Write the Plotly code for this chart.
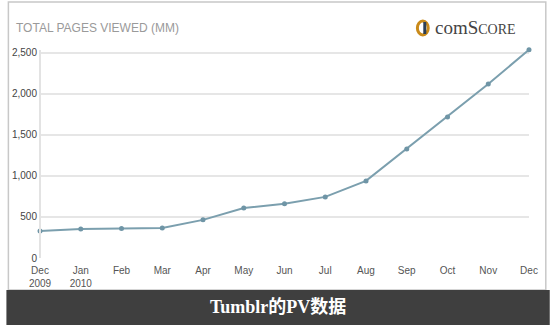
import plotly.graph_objects as go

months = ["Dec<br>2009", "Jan<br>2010", "Feb", "Mar", "Apr", "May", "Jun", "Jul", "Aug", "Sep", "Oct", "Nov", "Dec"]
pages_viewed = [330, 355, 360, 365, 465, 610, 660, 745, 940, 1330, 1720, 2120, 2540]
y_ticks = [0, 500, 1000, 1500, 2000, 2500]
y_tick_labels = ["0", "500", "1,000", "1,500", "2,000", "2,500"]

L, R, T, B = 34, 21, 48, 67
W, H = 550, 325
pw, ph = W - L - R, H - T - B

def px_x(x):
    return (x - L) / pw

def px_y(y):
    return (H - B - y) / ph

fig = go.Figure()
fig.add_trace(go.Scatter(
    x=list(range(len(months))), y=pages_viewed, mode="lines+markers",
    line=dict(color="#7b9fae", width=2),
    marker=dict(color="#6f95a6", size=5),
    cliponaxis=False, showlegend=False, hoverinfo="skip"))

shapes = [
    dict(type="rect", xref="paper", yref="paper", x0=px_x(2), x1=px_x(546), y0=px_y(290), y1=px_y(2),
         line=dict(color="#c8c8c8", width=1.5), fillcolor="rgba(0,0,0,0)", layer="below"),
    dict(type="rect", xref="paper", yref="paper", x0=px_x(0), x1=px_x(550), y0=px_y(325), y1=px_y(290),
         line=dict(width=0), fillcolor="#3f3f3f"),
    dict(type="circle", xref="paper", yref="paper", x0=px_x(416), x1=px_x(427), y0=px_y(35), y1=px_y(21),
         line=dict(color="#c98a1a", width=3), fillcolor="#ffffff"),
    dict(type="line", xref="paper", yref="paper", x0=px_x(423.5), x1=px_x(423.5), y0=px_y(34), y1=px_y(22),
         line=dict(color="#2c3e55", width=3)),
    dict(type="line", xref="paper", yref="paper", x0=px_x(34), x1=px_x(34), y0=px_y(258), y1=px_y(50),
         line=dict(color="#e3e3e3", width=2)),
]

annotations = [
    dict(text="TOTAL PAGES VIEWED (MM)", xref="paper", yref="paper", x=px_x(8), y=px_y(28),
         xanchor="left", yanchor="middle", showarrow=False,
         font=dict(family="Arial, Liberation Sans", size=12, color="#9a9a9a")),
    dict(text="comS<span style='font-size:14px'>CORE</span>", xref="paper", yref="paper", x=px_x(432), y=px_y(28),
         xanchor="left", yanchor="middle", showarrow=False,
         font=dict(family="Liberation Serif, DejaVu Serif", size=19, color="#444444")),
    dict(text="<b>Tumblr的PV数据</b>", xref="paper", yref="paper", x=px_x(275), y=px_y(307),
         xanchor="center", yanchor="middle", showarrow=False,
         font=dict(family="Liberation Serif, Noto Sans CJK SC", size=18, color="#ffffff")),
]

fig.update_layout(
    width=W, height=H, margin=dict(l=L, r=R, t=T, b=B),
    paper_bgcolor="#ffffff", plot_bgcolor="#ffffff",
    shapes=shapes, annotations=annotations,
    xaxis=dict(range=[0, len(months) - 1], tickmode="array", tickvals=list(range(len(months))),
               ticktext=months, showgrid=False, zeroline=False, showline=False,
               tickfont=dict(family="Arial, Liberation Sans", size=10, color="#555555"), ticklen=0,
               ticklabelstandoff=5),
    yaxis=dict(range=[0, 2560], tickmode="array", tickvals=y_ticks, ticktext=y_tick_labels,
               showgrid=True, gridcolor="#e6e6e6", gridwidth=2, zeroline=False, showline=False,
               tickfont=dict(family="Arial, Liberation Sans", size=10, color="#444444"), ticklen=0,
               ticklabelstandoff=2),
)

fig.write_html("out.html")
